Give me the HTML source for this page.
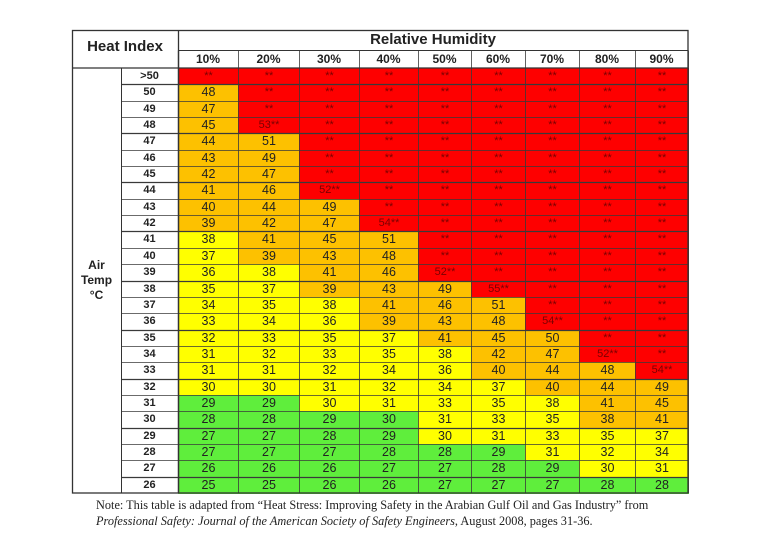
<!DOCTYPE html>
<html><head><meta charset="utf-8">
<style>
body{margin:0;background:#fff;width:768px;height:543px;overflow:hidden;font-family:"Liberation Sans",sans-serif;}
#wrap{position:relative;width:768px;height:543px;}
.abs{position:absolute;}
.cell{position:absolute;box-sizing:border-box;text-align:center;font-size:12.5px;color:#222;}
.hd{font-weight:bold;color:#222;}
.note{position:absolute;left:96px;font-family:"Liberation Serif",serif;font-size:12.3px;color:#222;white-space:nowrap;}
#lines{position:absolute;left:0;top:0;z-index:5;}
</style></head><body>
<div id="wrap">
<div class="abs hd" style="left:72px;top:38px;width:106px;text-align:center;font-size:15px">Heat Index</div>
<div class="abs hd" style="left:178px;top:31px;width:510px;text-align:center;font-size:15px">Relative Humidity</div>
<div class="abs hd" style="left:72px;top:258px;width:49px;text-align:center;font-size:12px;line-height:15px">Air<br>Temp<br>°C</div>
<div id="grid"></div>
<svg id="lines" width="768" height="543"></svg>
<div class="note" style="top:498px">Note: This table is adapted from “Heat Stress: Improving Safety in the Arabian Gulf Oil and Gas Industry” from</div>
<div class="note" style="top:514px;font-style:italic">Professional Safety: Journal of the American Society of Safety Engineers<span style="font-style:normal">, August 2008, pages 31-36.</span></div>
</div>
<script>
const humidity=["10%","20%","30%","40%","50%","60%","70%","80%","90%"];
const temps=[">50","50","49","48","47","46","45","44","43","42","41","40","39","38","37","36","35","34","33","32","31","30","29","28","27","26"];
const values=[
["**","**","**","**","**","**","**","**","**"],
["48","**","**","**","**","**","**","**","**"],
["47","**","**","**","**","**","**","**","**"],
["45","53**","**","**","**","**","**","**","**"],
["44","51","**","**","**","**","**","**","**"],
["43","49","**","**","**","**","**","**","**"],
["42","47","**","**","**","**","**","**","**"],
["41","46","52**","**","**","**","**","**","**"],
["40","44","49","**","**","**","**","**","**"],
["39","42","47","54**","**","**","**","**","**"],
["38","41","45","51","**","**","**","**","**"],
["37","39","43","48","**","**","**","**","**"],
["36","38","41","46","52**","**","**","**","**"],
["35","37","39","43","49","55**","**","**","**"],
["34","35","38","41","46","51","**","**","**"],
["33","34","36","39","43","48","54**","**","**"],
["32","33","35","37","41","45","50","**","**"],
["31","32","33","35","38","42","47","52**","**"],
["31","31","32","34","36","40","44","48","54**"],
["30","30","31","32","34","37","40","44","49"],
["29","29","30","31","33","35","38","41","45"],
["28","28","29","30","31","33","35","38","41"],
["27","27","28","29","30","31","33","35","37"],
["27","27","27","28","28","29","31","32","34"],
["26","26","26","27","27","28","29","30","31"],
["25","25","26","26","27","27","27","28","28"]];
const levels=[
"RRRRRRRRR","ORRRRRRRR","ORRRRRRRR","ORRRRRRRR","OORRRRRRR","OORRRRRRR","OORRRRRRR","OORRRRRRR",
"OOORRRRRR","OOORRRRRR","YOOORRRRR","YOOORRRRR","YYOORRRRR","YYOOORRRR","YYYOOORRR","YYYOOORRR",
"YYYYOOORR","YYYYYOORR","YYYYYOOOR","YYYYYYOOO","GGYYYYYOO","GGGGYYYOO","GGGGYYYYY","GGGGGGYYY",
"GGGGGGGYY","GGGGGGGGG"];
const colors={R:"#fe0000",O:"#fdc100",Y:"#ffff00",G:"#5fee3c"};
const colX=[178,238,299,359,418,471,525,579,635,688];
const top0=68,rowH=425/26;
const grid=document.getElementById('grid');
humidity.forEach((h,j)=>{
 const d=document.createElement('div');
 d.className='cell hd';
 d.style.cssText=`left:${colX[j]}px;top:51px;width:${colX[j+1]-colX[j]}px;height:17px;line-height:17px;font-size:12px;background:#fff`;
 d.textContent=h;
 
 
 grid.appendChild(d);
});
temps.forEach((t,i)=>{
 const y=top0+i*rowH;
 const l=document.createElement('div');
 l.className='cell hd';
 l.style.cssText=`left:121px;top:${y}px;width:57px;height:${rowH+1}px;line-height:${rowH}px;font-size:11px;background:#fff`;
 l.textContent=t;
 
 
 grid.appendChild(l);
 values[i].forEach((v,j)=>{
  const c=document.createElement('div');
  c.className='cell';
  const lv=levels[i][j];
  c.style.cssText=`left:${colX[j]}px;top:${y}px;width:${colX[j+1]-colX[j]+1}px;height:${rowH+1}px;line-height:${rowH+1}px;background:${colors[lv]};`+(lv==='R'?'color:#7a0000;font-size:11px;':'');
  c.textContent=v;
  
  
  grid.appendChild(c);
 });
});
// grid lines
const svg=document.getElementById('lines');
function ln(x1,y1,x2,y2,w,c){
 const e=document.createElementNS('http://www.w3.org/2000/svg','line');
 e.setAttribute('x1',x1);e.setAttribute('y1',y1);e.setAttribute('x2',x2);e.setAttribute('y2',y2);
 e.setAttribute('stroke',c||'#333');e.setAttribute('stroke-width',w);
 svg.appendChild(e);
}
const bottom=top0+temps.length*rowH;
for(let i=1;i<temps.length;i++){
 const y=Math.round(top0+i*rowH)+0.5;
 ln(121,y,688,y,(i%3===1)?1.3:0.8,'#3a3a3a');
}
colX.forEach((x,j)=>{ln(x+0.5,50.5,x+0.5,bottom,(j===0)?1.3:0.8,'#3a3a3a');});
ln(121.5,68,121.5,bottom,1,'#333');
ln(178,50.5,688,50.5,1,'#333');
ln(72,68,688,68,1.3,'#333');
ln(178.5,30,178.5,bottom,1.3,'#333');
const r=document.createElementNS('http://www.w3.org/2000/svg','rect');
r.setAttribute('x',72.5);r.setAttribute('y',30.5);r.setAttribute('width',615.5);r.setAttribute('height',bottom-30.5);
r.setAttribute('fill','none');r.setAttribute('stroke','#333');r.setAttribute('stroke-width',1.3);
svg.appendChild(r);
</script>
</body></html>
